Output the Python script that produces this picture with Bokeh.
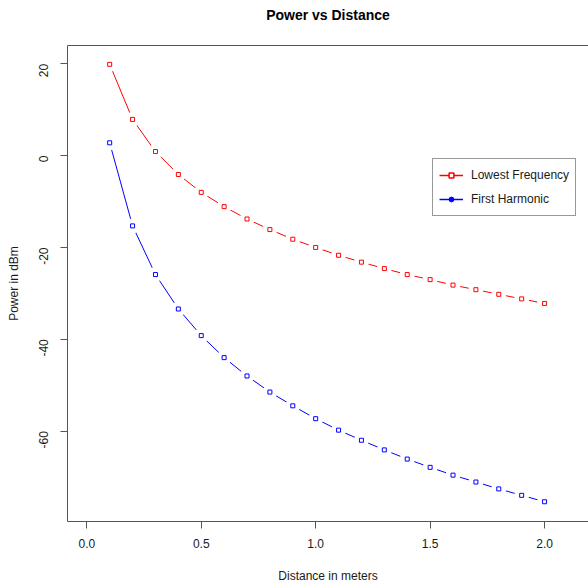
import math
from bokeh.plotting import figure
from bokeh.models import (LinearAxis, FixedTicker, Range1d, Legend, LegendItem,
                          ColumnDataSource)
from bokeh.embed import file_html
from bokeh.resources import INLINE

# ---- data ----
distance = [0.1, 0.2, 0.3, 0.4, 0.5, 0.6, 0.7, 0.8, 0.9, 1.0,
            1.1, 1.2, 1.3, 1.4, 1.5, 1.6, 1.7, 1.8, 1.9, 2.0]
lowest_freq = [19.9, 7.9, 0.9, -4.1, -8.0, -11.1, -13.8, -16.1, -18.2, -20.0,
               -21.7, -23.2, -24.6, -25.9, -27.0, -28.2, -29.2, -30.2, -31.2, -32.2]
first_harmonic = [2.8, -15.3, -25.9, -33.4, -39.2, -44.0, -48.0, -51.5, -54.5, -57.3,
                  -59.8, -62.0, -64.1, -66.1, -67.9, -69.6, -71.1, -72.6, -74.0, -75.4]
x_ticks = [0.0, 0.5, 1.0, 1.5, 2.0]
x_tick_labels = ["0.0", "0.5", "1.0", "1.5", "2.0"]
y_ticks = [-60, -40, -20, 0, 20]
y_tick_labels = ["-60", "-40", "-20", "0", "20"]
series_names = ["Lowest Frequency", "First Harmonic"]
title_text = "Power vs Distance"

FONT = "Liberation Sans"
FRAME = "#555555"
TXT = "#1a1a1a"

p = figure(width=588, height=585, output_backend="svg", toolbar_location=None,
           x_range=Range1d(-0.0843, 2.192), y_range=Range1d(-79.7, 24.0),
           x_axis_location=None, y_axis_location=None,
           min_border_left=67, min_border_right=0, min_border_top=45,
           min_border_bottom=61)
p.outline_line_color = None
p.xgrid.visible = False
p.ygrid.visible = False
p.background_fill_color = "white"
p.border_fill_color = "white"
p.title.visible = False
# a range far away from the data, used only by legend sample marks
p.extra_y_ranges = {"legend_only": Range1d(1000, 1001)}

# axes
xaxis = LinearAxis(ticker=FixedTicker(ticks=x_ticks),
                   major_label_overrides={t: l for t, l in zip(x_ticks, x_tick_labels)},
                   axis_label="Distance in meters")
yaxis = LinearAxis(ticker=FixedTicker(ticks=y_ticks),
                   major_label_overrides={t: l for t, l in zip(y_ticks, y_tick_labels)},
                   axis_label="Power in dBm")
for ax in (xaxis, yaxis):
    ax.axis_line_color = FRAME
    ax.axis_line_width = 1
    ax.major_tick_line_color = FRAME
    ax.major_tick_in = 0
    ax.major_tick_out = 7
    ax.minor_tick_line_color = None
    ax.major_label_text_font = FONT
    ax.major_label_text_font_size = "12px"
    ax.major_label_text_color = TXT
    ax.axis_label_text_font = FONT
    ax.axis_label_text_font_size = "12px"
    ax.axis_label_text_font_style = "normal"
    ax.axis_label_text_color = TXT
xaxis.major_label_standoff = 10
xaxis.axis_label_standoff = 18
yaxis.major_label_standoff = 17
yaxis.axis_label_standoff = 11
yaxis.major_label_orientation = math.pi / 2

# top edge of the box, carrying the chart title
top = LinearAxis(ticker=FixedTicker(ticks=[]), axis_line_color=FRAME,
                 major_tick_line_color=None, minor_tick_line_color=None,
                 major_tick_out=0, major_tick_in=0, major_label_standoff=0,
                 major_label_text_font_size="0px",
                 axis_label=title_text, axis_label_text_font=FONT,
                 axis_label_text_font_size="14px", axis_label_text_font_style="bold",
                 axis_label_text_color="#000000", axis_label_standoff=23)
p.add_layout(xaxis, "below")
p.add_layout(yaxis, "left")
p.add_layout(top, "above")

src = ColumnDataSource(dict(x=distance, lo=lowest_freq, fh=first_harmonic))

# lines (type "b": gaps around points)
r_line = p.line("x", "lo", source=src, line_color="red", line_width=1)
b_line = p.line("x", "fh", source=src, line_color="blue", line_width=1)
p.scatter("x", "lo", source=src, marker="circle", size=15, fill_color="white",
          line_color=None)
p.scatter("x", "fh", source=src, marker="circle", size=15, fill_color="white",
          line_color=None)
p.scatter("x", "lo", source=src, marker="square", size=4, fill_color="white",
          line_color="red", line_width=1)
p.scatter("x", "fh", source=src, marker="square", size=4, fill_color="white",
          line_color="blue", line_width=1)

# legend sample marks: drawn on the far-away range, so only the legend shows them
leg_r_line = p.line("x", "lo", source=src, y_range_name="legend_only",
                    line_color="red", line_width=1.5)
leg_r_pt = p.scatter("x", "lo", source=src, y_range_name="legend_only",
                     marker="square", size=5, fill_color="white",
                     line_color="red", line_width=1.5)
leg_b_line = p.line("x", "fh", source=src, y_range_name="legend_only",
                    line_color="blue", line_width=1.5)
leg_b_pt = p.scatter("x", "fh", source=src, y_range_name="legend_only",
                     marker="circle", size=5, fill_color="blue", line_color="blue")

legend = Legend(items=[LegendItem(label=series_names[0], renderers=[leg_r_line, leg_r_pt]),
                       LegendItem(label=series_names[1], renderers=[leg_b_line, leg_b_pt])],
                location=(365, 305), orientation="vertical",
                border_line_color="#333333", border_line_width=1,
                background_fill_color="white", background_fill_alpha=1.0,
                label_text_font=FONT, label_text_font_size="12px",
                label_text_color=TXT, glyph_width=24, glyph_height=12,
                label_height=20, label_standoff=8, spacing=4, padding=6,
                margin=0)
p.add_layout(legend, "center")

open("out.html", "w").write(file_html(p, INLINE))
